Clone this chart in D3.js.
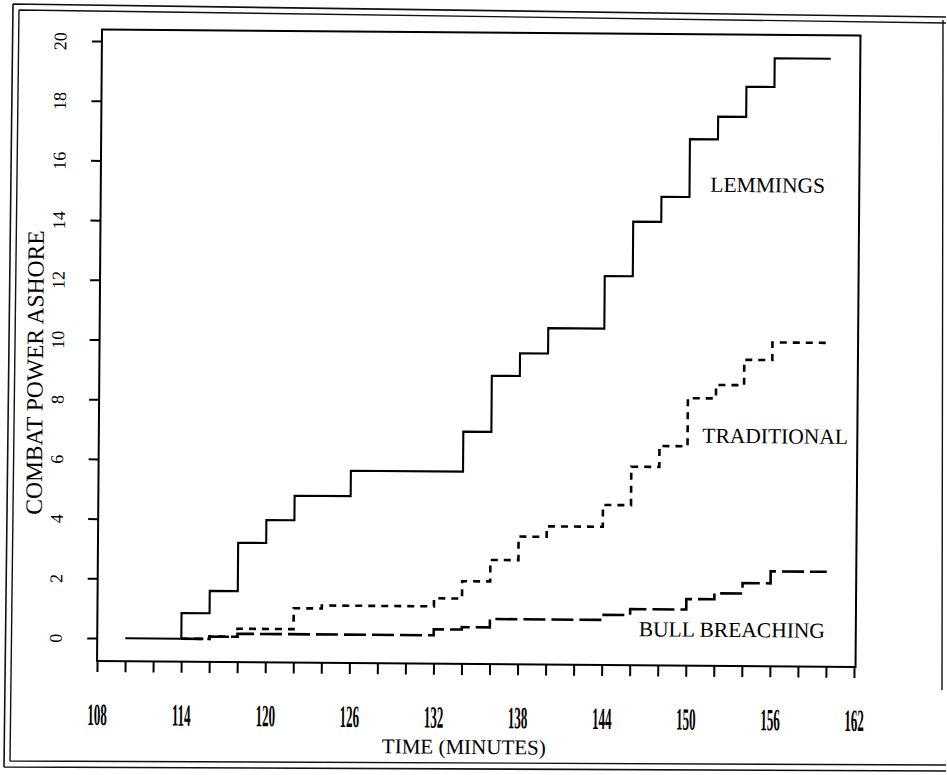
<!DOCTYPE html>
<html>
<head>
<meta charset="utf-8">
<script src="https://cdn.jsdelivr.net/npm/d3@7/dist/d3.min.js"></script>
<style>
	html, body { margin: 0; padding: 0; background: #fff; }
	svg { display: block; }
	text { font-family: 'Liberation Serif', 'DejaVu Serif', serif; fill: #000; }
</style>
</head>
<body>
<svg id="chart" width="947" height="775"></svg>
<script>
const WIDTH = 947
const HEIGHT = 775
const SERIF = "'Liberation Serif', 'DejaVu Serif', serif"

// minutes at which each step starts, last entry closes the final step
const lemmingsTimes = [110, 114, 116, 118, 120, 122, 126, 134, 136, 138, 140, 144, 146, 148, 150, 152, 154, 156, 160]
const lemmingsPower = [0, 0.86, 1.61, 3.23, 4.0, 4.82, 5.67, 7.01, 8.89, 9.65, 10.5, 12.26, 14.09, 14.93, 16.87, 17.63, 18.64, 19.6, 19.6]

const traditionalTimes = [114, 116, 118, 122, 124, 132, 134, 136, 138, 140, 144, 146, 148, 150, 152, 154, 156, 160]
const traditionalPower = [0, 0.08, 0.35, 1.05, 1.15, 1.42, 2.0, 2.72, 3.51, 3.86, 4.59, 5.88, 6.58, 8.19, 8.64, 9.49, 10.08, 10.08]

const bullTimes = [114, 116, 118, 132, 134, 136, 144, 146, 150, 152, 154, 156, 160]
const bullPower = [0, 0.08, 0.18, 0.38, 0.46, 0.74, 0.91, 1.11, 1.46, 1.66, 2.01, 2.41, 2.41]

const xTickLabels = [108, 114, 120, 126, 132, 138, 144, 150, 156, 162]
const yTickLabels = [0, 2, 4, 6, 8, 10, 12, 14, 16, 18, 20]

const series = [
	{ name: 'LEMMINGS', times: lemmingsTimes, power: lemmingsPower, dash: null, width: 2.1, label: [709, 190] },
	{ name: 'TRADITIONAL', times: traditionalTimes, power: traditionalPower, dash: '7,6', width: 2.6, label: [703, 441] },
	{ name: 'BULL BREACHING', times: bullTimes, power: bullPower, dash: '22,6', width: 2.6, label: [641, 635] }
]

const box = { left: 99.5, right: 858, top: 32.5, bottom: 664 }

const x = d3.scaleLinear()
	.domain([108, 162])
	.range([99.5, 856.5])

const y = d3.scaleLinear()
	.domain([0, 20])
	.range([641, 44])

const svg = d3.select('#chart')

svg.append('rect')
	.attr('width', WIDTH)
	.attr('height', HEIGHT)
	.attr('fill', '#fff')

// scanned page frame, slightly askew
const frame = svg.append('g')
	.attr('fill', 'none')
	.attr('stroke', '#111')

frame.append('path')
	.attr('d', 'M13,4 L946,17 M4,767 L946,771 M13,4 L4,767')
	.attr('stroke-width', 1.6)

frame.append('path')
	.attr('d', 'M19,10 L946,23 M10,761 L946,765 M19,10 L10,761 M943,20 L942,690')
	.attr('stroke-width', 1.4)

const g = svg.append('g')
	.attr('transform', 'rotate(0.45, 476, 350)')

g.append('rect')
	.attr('x', box.left)
	.attr('y', box.top)
	.attr('width', box.right - box.left)
	.attr('height', box.bottom - box.top)
	.attr('fill', 'none')
	.attr('stroke', '#000')
	.attr('stroke-width', 2)

const xAxis = d3.axisBottom(x)
	.tickValues(d3.range(108, 163, 2))
	.tickSize(11)
	.tickFormat(d => xTickLabels.includes(d) ? d : '')

const xAxisG = g.append('g')
	.attr('transform', `translate(0, ${box.bottom})`)
	.call(xAxis)

xAxisG.select('.domain').remove()
xAxisG.selectAll('line')
	.attr('stroke', '#000')
	.attr('stroke-width', 2)
xAxisG.selectAll('text')
	.attr('y', 64)
	.attr('dy', 0)
	.attr('transform', 'scale(0.42, 1)')
	.attr('fill', '#000')
	.style('font-family', SERIF)
	.style('font-weight', 'bold')
	.style('font-size', '31px')

const yAxis = d3.axisLeft(y)
	.tickValues(yTickLabels)
	.tickSize(10)
	.tickFormat(d => d)

const yAxisG = g.append('g')
	.attr('transform', `translate(${box.left}, 0)`)
	.call(yAxis)

yAxisG.select('.domain').remove()
yAxisG.selectAll('line')
	.attr('stroke', '#000')
	.attr('stroke-width', 2)
yAxisG.selectAll('text')
	.attr('x', 0)
	.attr('dy', 0)
	.attr('text-anchor', 'middle')
	.attr('transform', `translate(${64 - box.left}, 0) rotate(-90)`)
	.attr('fill', '#000')
	.style('font-family', SERIF)
	.style('font-size', '18px')

const line = d3.line()
	.x(d => x(d[0]))
	.y(d => y(d[1]))
	.curve(d3.curveStepAfter)

g.selectAll('.step')
	.data(series)
	.enter()
	.append('path')
	.attr('class', 'step')
	.attr('d', s => line(s.times.map((t, i) => [t, s.power[i]])))
	.attr('fill', 'none')
	.attr('stroke', '#000')
	.attr('stroke-width', s => s.width)
	.attr('stroke-dasharray', s => s.dash)

g.selectAll('.series-label')
	.data(series)
	.enter()
	.append('text')
	.attr('class', 'series-label')
	.attr('x', s => s.label[0])
	.attr('y', s => s.label[1])
	.style('font-family', SERIF)
	.style('font-size', '21.5px')
	.text(s => s.name)

g.append('text')
	.attr('x', 385)
	.attr('y', 754)
	.style('font-family', SERIF)
	.style('font-size', '21px')
	.text('TIME (MINUTES)')

g.append('text')
	.attr('transform', 'translate(43, 376) rotate(-90)')
	.attr('text-anchor', 'middle')
	.style('font-family', SERIF)
	.style('font-size', '23.5px')
	.text('COMBAT POWER ASHORE')
</script>
</body>
</html>
